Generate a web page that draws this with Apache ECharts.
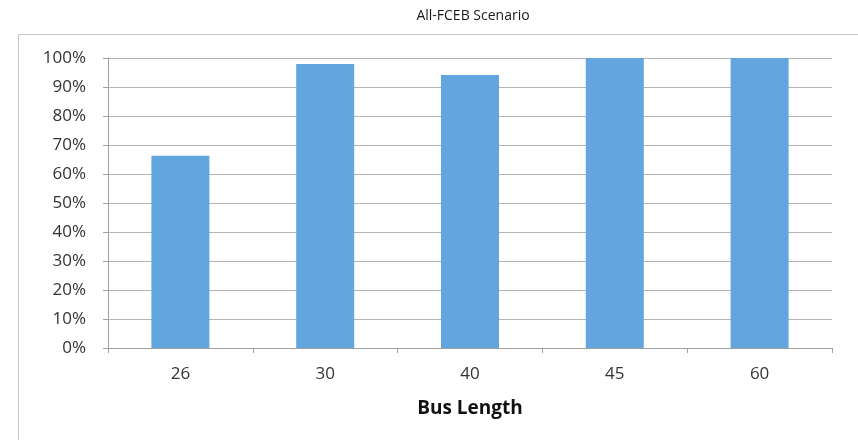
<!DOCTYPE html>
<html>
<head>
<meta charset="utf-8">
<script src="https://cdn.jsdelivr.net/npm/echarts@6/dist/echarts.min.js"></script>
<style>
html,body{margin:0;padding:0;background:#fff;}
#c{width:858px;height:440px;}
</style>
</head>
<body>
<div id="c"></div>
<script>
var categories = ['26', '30', '40', '45', '60'];
var values = [0.663, 0.979, 0.941, 1.0, 1.0];
var chartTitle = 'All-FCEB Scenario';
var xName = 'Bus Length';

var chart = echarts.init(document.getElementById('c'));
chart.setOption({
  animation: false,
  backgroundColor: '#fff',
  title: {
    text: chartTitle, left: 468, top: 4, textAlign: 'center',
    textStyle: {fontFamily: 'Open Sans', fontSize: 14, fontWeight: 'normal', color: '#1a1a1a'}
  },
  graphic: [{
    type: 'rect', shape: {x: 18.5, y: 34.5, width: 900, height: 500},
    style: {fill: 'none', stroke: '#c8c8c8', lineWidth: 1}
  }],
  grid: {left: 108, right: 26, top: 58, bottom: 92},
  xAxis: {
    type: 'category', data: categories,
    name: xName, nameLocation: 'middle', nameGap: 51,
    nameTextStyle: {fontFamily: 'Open Sans', fontSize: 19, fontWeight: 'bold', color: '#111'},
    axisLine: {lineStyle: {color: '#a0a0a0'}},
    axisTick: {show: true, length: 5, lineStyle: {color: '#a0a0a0'}},
    axisLabel: {fontFamily: 'Open Sans', fontSize: 17, color: '#333', margin: 18}
  },
  yAxis: {
    type: 'value', min: 0, max: 1, interval: 0.1,
    axisLine: {show: true, lineStyle: {color: '#a0a0a0'}},
    axisTick: {show: true, length: 5, lineStyle: {color: '#a0a0a0'}},
    splitLine: {lineStyle: {color: '#b4b4b4'}},
    axisLabel: {fontFamily: 'Open Sans', fontSize: 17, color: '#333', margin: 22,
      formatter: function (v) { return Math.round(v * 100) + '%'; }}
  },
  series: [{
    type: 'bar', data: values, barWidth: 58,
    itemStyle: {color: '#62a5df'}
  }]
});
</script>
</body>
</html>
